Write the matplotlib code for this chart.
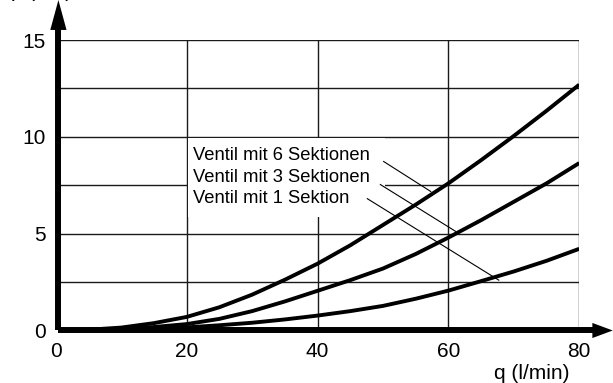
import matplotlib
matplotlib.use("Agg")
import matplotlib.pyplot as plt
from matplotlib.patches import Polygon, Rectangle

plt.rcParams['font.family'] = ['Liberation Sans', 'DejaVu Sans']

# Flow rate q (l/min) and pressure drop p (bar) for each valve configuration
q = [0, 5, 10, 15, 20, 25, 30, 35, 40, 45, 50, 55, 60, 65, 70, 75, 80]
p_6_sektionen = [0, 0.04, 0.15, 0.38, 0.70, 1.20, 1.85, 2.62, 3.45, 4.40, 5.45,
                 6.50, 7.60, 8.80, 10.05, 11.35, 12.70]
p_3_sektionen = [0, 0.02, 0.08, 0.18, 0.33, 0.60, 1.00, 1.50, 2.05, 2.60, 3.20,
                 3.95, 4.80, 5.70, 6.65, 7.60, 8.65]
p_1_sektion = [0, 0.01, 0.04, 0.09, 0.16, 0.27, 0.40, 0.57, 0.77, 1.00, 1.27,
               1.64, 2.06, 2.55, 3.05, 3.60, 4.22]

labels = ["Ventil mit 6 Sektionen", "Ventil mit 3 Sektionen", "Ventil mit 1 Sektion"]
x_ticks = [0, 20, 40, 60, 80]
y_ticks = [0, 5, 10, 15]
y_grid = [2.5, 5, 7.5, 10, 12.5, 15]

fig = plt.figure(figsize=(6.13, 3.83), dpi=100)
ax = fig.add_axes([0.0910, 0.1371, 0.8540, 0.7582])
ax.set_xlim(0, 80)
ax.set_ylim(0, 15)
for s in ax.spines.values():
    s.set_visible(False)

# grid
ax.hlines(y_grid, 0, 80, color='#1a1a1a', lw=1.0, zorder=1)
ax.vlines(x_ticks[1:], 0, 15, color='#1a1a1a', lw=1.0, zorder=1)

# curves
for vals in (p_6_sektionen, p_3_sektionen, p_1_sektion):
    ax.plot(q, vals, color='black', lw=2.8, zorder=4,
            solid_capstyle='butt', solid_joinstyle='round')

# white area behind the labels
ax.add_patch(Rectangle((20.25, 5.88), 30.05, 4.07, facecolor='white',
                       edgecolor='none', zorder=2))

# labels with leader lines
text_y = [8.81, 7.67, 6.59]
leaders = [((50.1, 8.73), (57.3, 7.18)),
           ((49.6, 7.54), (61.1, 5.12)),
           ((47.6, 6.81), (67.7, 2.60))]
for lab, ty, (a, b) in zip(labels, text_y, leaders):
    ax.text(20.9, ty, lab, fontsize=13.2, va='baseline', ha='left', zorder=5)
    ax.plot([a[0], b[0]], [a[1], b[1]], color='black', lw=0.8, zorder=3)

# axes with arrows
ax.plot([0.005, 1.03], [0, 0], transform=ax.transAxes, color='black', lw=4.3,
        clip_on=False, zorder=6, solid_capstyle='butt')
ax.plot([0.005, 0.005], [0, 1.04], transform=ax.transAxes, color='black', lw=4.3,
        clip_on=False, zorder=6, solid_capstyle='butt')
ax.add_patch(Polygon([(1.025, 0.026), (1.064, 0.0), (1.025, -0.026)], closed=True,
                     transform=ax.transAxes, facecolor='black', edgecolor='none',
                     clip_on=False, zorder=6))
ax.add_patch(Polygon([(0.005 - 0.0155, 1.035), (0.005, 1.138), (0.005 + 0.0155, 1.035)],
                     closed=True, transform=ax.transAxes, facecolor='black',
                     edgecolor='none', clip_on=False, zorder=6))

# ticks
ax.set_xticks(x_ticks)
ax.set_yticks(y_ticks)
ax.set_xticklabels([str(v) for v in x_ticks])
ax.set_yticklabels([str(v) for v in y_ticks])
ax.tick_params(axis='both', length=0, labelsize=15)
ax.tick_params(axis='x', pad=8)
ax.tick_params(axis='y', pad=7)

# axis titles
fig.text(570 / 613, 4 / 383, "q (l/min)", fontsize=15, ha='right', va='baseline')
fig.text(42 / 613, 1 + 3 / 383, "p (bar)", fontsize=15, ha='center', va='baseline')

fig.savefig("out.png", dpi=100)
